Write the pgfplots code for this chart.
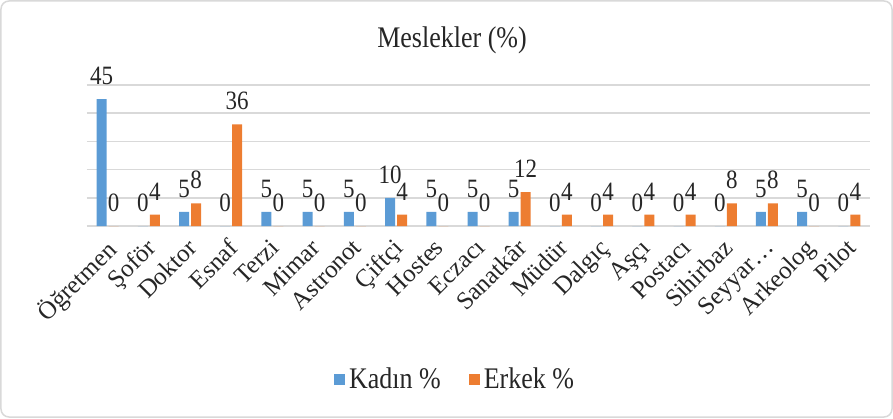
\documentclass[border=0pt]{standalone}
\usepackage{fontspec}
\setmainfont{Liberation Serif}
\usepackage{graphicx}
\usepackage{pgfplots}
\pgfplotsset{compat=1.18}
\definecolor{kadin}{HTML}{5B9BD5}
\definecolor{erkek}{HTML}{ED7D31}
\definecolor{gridc}{HTML}{D9D9D9}
\definecolor{txt}{HTML}{262626}
\pgfplotsset{sq legend/.style={legend image code/.code={\fill[##1] (0pt,-2.75pt) rectangle (5.5pt,2.75pt);}}}
\newcommand{\tall}[1]{\scalebox{1}[1.15]{#1}}

\begin{document}
\begin{tikzpicture}
\begin{axis}[
    scale only axis,
    width=391.5pt, height=70.5pt,
    ybar=1pt, bar width=5pt,
    xmin=-0.5, xmax=18.5, ymin=0, ymax=50,
    xtick=data,
    xticklabels={Öğretmen,Şoför,Doktor,Esnaf,Terzi,Mimar,Astronot,Çiftçi,Hostes,Eczacı,Sanatkâr,Müdür,Dalgıç,Aşçı,Postacı,Sihirbaz,Seyyar…,Arkeolog,Pilot},
    ytick={0,10,...,50}, yticklabels={},
    ymajorgrids, grid style={gridc, line width=0.8pt},
    axis line style={draw=none},
    major tick length=0pt,
    xticklabel style={xshift=-2pt, yshift=-5.5pt, font=\fontsize{12.5}{12.5}\selectfont, text=txt, rotate=45, anchor=north east, inner sep=0pt},
    /pgf/number format/assume math mode=true,
    nodes near coords={\tall{\pgfmathprintnumber{\pgfplotspointmeta}}},
    every node near coord/.append style={font=\fontsize{11.5}{11.5}\selectfont, text=txt, inner sep=0pt, yshift=7pt},
    clip=false,
    legend columns=2,
    legend style={at={(0.4713,-1.092)}, anchor=center, draw=none, fill=none,
        font=\fontsize{13}{13}\selectfont, text=txt,
        /tikz/every even column/.append style={column sep=12pt}},
]
\addplot[fill=kadin, draw=none, sq legend] coordinates {
(0,45)(1,0)(2,5)(3,0)(4,5)(5,5)(6,5)(7,10)(8,5)(9,5)(10,5)(11,0)(12,0)(13,0)(14,0)(15,0)(16,5)(17,5)(18,0)};
\addplot[fill=erkek, draw=none, sq legend] coordinates {
(0,0)(1,4)(2,8)(3,36)(4,0)(5,0)(6,0)(7,4)(8,0)(9,0)(10,12)(11,4)(12,4)(13,4)(14,4)(15,8)(16,8)(17,0)(18,4)};
\legend{\tall{Kadın \%}, \tall{Erkek \%}}
\end{axis}
\node[anchor=base, font=\fontsize{13}{13}\selectfont, text=txt] at (182.5pt,89pt) {\tall{Meslekler (\%)}};
\pgfresetboundingbox
\path[use as bounding box] (-43.5pt,-96pt) rectangle (403pt,113pt);
\draw[gridc, rounded corners=4pt, line width=0.75pt] (-43pt,-95.5pt) rectangle (402.5pt,112.5pt);
\end{tikzpicture}
\end{document}
